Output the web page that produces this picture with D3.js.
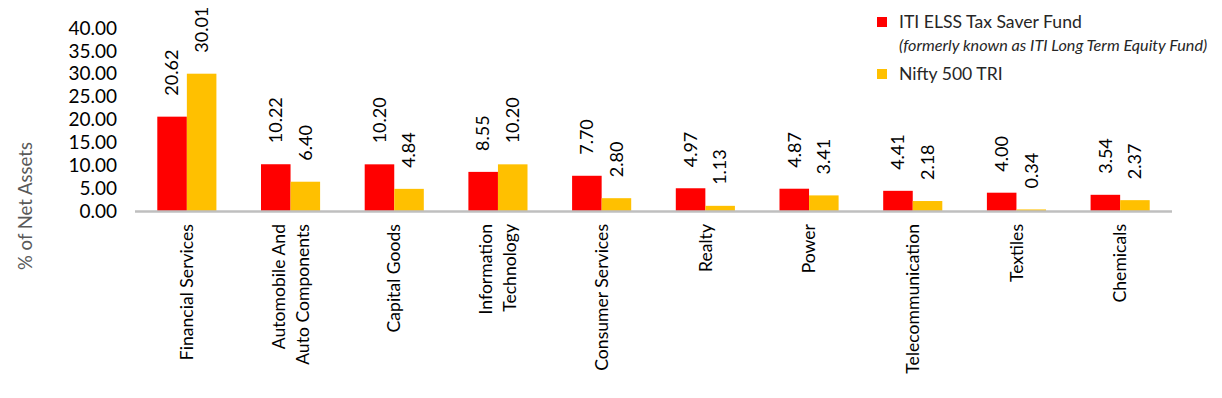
<!DOCTYPE html>
<html>
<head>
<meta charset="utf-8">
<script src="https://cdn.jsdelivr.net/npm/d3@7"></script>
<style>
  html, body { margin: 0; padding: 0; background: #fff; }
  svg { display: block; }
  text { font-family: "Lato", "Open Sans", sans-serif; }
</style>
</head>
<body>
<svg id="chart" width="1222" height="398"></svg>
<script>
const categories = [
  ["Financial Services"],
  ["Automobile And", "Auto Components"],
  ["Capital Goods"],
  ["Information", "Technology"],
  ["Consumer Services"],
  ["Realty"],
  ["Power"],
  ["Telecommunication"],
  ["Textiles"],
  ["Chemicals"]
];
const fundValues  = [20.62, 10.22, 10.20, 8.55, 7.70, 4.97, 4.87, 4.41, 4.00, 3.54];
const indexValues = [30.01, 6.40, 4.84, 10.20, 2.80, 1.13, 3.41, 2.18, 0.34, 2.37];
const seriesNames = ["ITI ELSS Tax Saver Fund", "Nifty 500 TRI"];
const legendNote = "(formerly known as ITI Long Term Equity Fund)";
const yTicks = [0, 5, 10, 15, 20, 25, 30, 35, 40];
const colors = ["#FF0000", "#FFC000"];

const svg = d3.select("#chart");
const catKeys = categories.map(c => c.join(" "));

const x = d3.scaleBand().domain(catKeys).range([135, 1172]).paddingInner(0.43).paddingOuter(0.215);
const xs = d3.scaleBand().domain([0, 1]).range([0, x.bandwidth()]);
const y = d3.scaleLinear().domain([0, 40]).range([211, 28]);

// y tick labels
svg.append("g").selectAll("text").data(yTicks).join("text")
  .attr("x", 117).attr("y", d => y(d)).attr("dy", "0.35em")
  .attr("text-anchor", "end").attr("font-size", 19).attr("fill", "#000")
  .text(d => d.toFixed(2));

// y title
svg.append("text")
  .attr("transform", "translate(32,206) rotate(-90)")
  .attr("text-anchor", "middle").attr("font-size", 18.5).attr("fill", "#595959")
  .attr("font-family", "Open Sans")
  .text("% of Net Assets");

const series = [fundValues, indexValues];
const groups = svg.append("g").selectAll("g").data(catKeys).join("g")
  .attr("transform", d => `translate(${x(d)},0)`);

series.forEach((vals, si) => {
  groups.append("rect")
    .attr("x", xs(si)).attr("width", xs.bandwidth())
    .attr("y", (d, i) => y(vals[i]))
    .attr("height", (d, i) => y(0) - y(vals[i]))
    .attr("fill", colors[si]);
  groups.append("text")
    .attr("transform", (d, i) => `translate(${xs(si) + xs.bandwidth() / 2},${y(vals[i]) - 21}) rotate(-90)`)
    .attr("dy", "0.35em").attr("font-size", 18).attr("fill", "#000")
    .text((d, i) => vals[i].toFixed(2));
});

// axis line
svg.append("line").attr("x1", 135).attr("x2", 1172).attr("y1", y(0) + 0.5).attr("y2", y(0) + 0.5)
  .attr("stroke", "#BFBFBF").attr("stroke-width", 2.5);

// category labels
groups.each(function(d, i) {
  const lines = categories[i];
  const g = d3.select(this);
  const cx = x.bandwidth() / 2;
  lines.forEach((ln, li) => {
    const off = (li - (lines.length - 1) / 2) * 24;
    g.append("text")
      .attr("transform", `translate(${cx + off},${224}) rotate(-90)`)
      .attr("text-anchor", "end").attr("dy", "0.35em")
      .attr("font-size", 17.6).attr("fill", "#000")
      .text(ln);
  });
});

// legend
const lg = svg.append("g");
lg.append("rect").attr("x", 877).attr("y", 17).attr("width", 10).attr("height", 10).attr("fill", colors[0]);
lg.append("text").attr("x", 899).attr("y", 22).attr("dy", "0.35em").attr("font-size", 17.6).attr("fill", "#262626").text(seriesNames[0]);
lg.append("text").attr("x", 899).attr("y", 45).attr("dy", "0.35em").attr("font-size", 16.2).attr("font-style", "italic").attr("fill", "#262626").text(legendNote);
lg.append("rect").attr("x", 877).attr("y", 69).attr("width", 10).attr("height", 10).attr("fill", colors[1]);
lg.append("text").attr("x", 899).attr("y", 74).attr("dy", "0.35em").attr("font-size", 17.6).attr("fill", "#262626").text(seriesNames[1]);
</script>
</body>
</html>
